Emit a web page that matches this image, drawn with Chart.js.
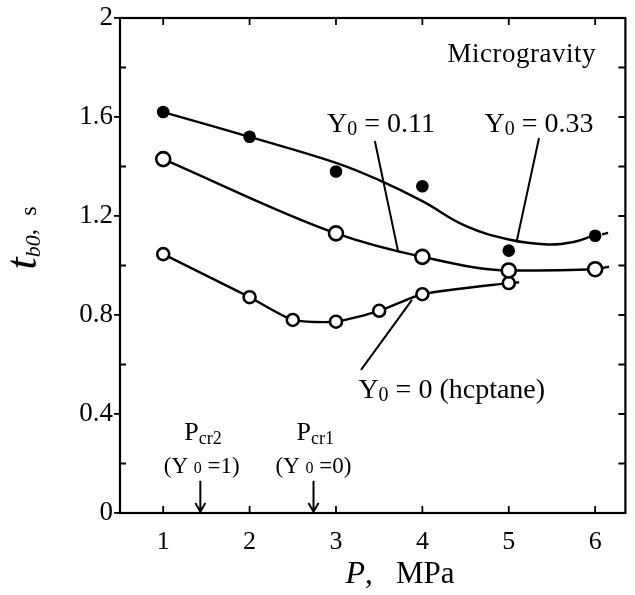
<!DOCTYPE html>
<html>
<head>
<meta charset="utf-8">
<script src="https://cdn.jsdelivr.net/npm/chart.js@4.4.1/dist/chart.umd.min.js"></script>
<style>
  html, body { margin: 0; padding: 0; background: #fff; }
</style>
</head>
<body>
<canvas id="chart1" width="635" height="595"></canvas>
<script>
// Y0 = 0.33 (filled dots) and the fitted curve through them
var pressure033 = [1, 2, 3, 4, 5, 6];
var tb033 = [1.62, 1.52, 1.38, 1.32, 1.06, 1.12];
var fitP033 = [1, 2, 3, 3.5, 4, 4.5, 5, 5.45, 5.75, 5.97];
var fitT033 = [1.62, 1.52, 1.415, 1.345, 1.26, 1.16, 1.105, 1.085, 1.095, 1.12];
var stubP033 = [6.08, 6.15];
var stubT033 = [1.126, 1.132];

// Y0 = 0.11 (large open circles)
var pressure011 = [1, 3, 4, 5, 6];
var tb011 = [1.43, 1.13, 1.035, 0.98, 0.985];
var tailP011 = 6.16, tailT011 = 0.995;

// Y0 = 0, heptane (small open circles)
var pressure0 = [1, 2, 2.5, 3, 3.5, 4, 5];
var tb0 = [1.046, 0.872, 0.78, 0.773, 0.817, 0.884, 0.929];
var tailP0 = 5.12, tailT0 = 0.932;

var xTickValues = [1, 2, 3, 4, 5, 6];
var yMinorValues = [0.2, 0.6, 1.0, 1.4, 1.8];
var yAllValues = [0.2, 0.4, 0.6, 0.8, 1.0, 1.2, 1.4, 1.6, 1.8];

function pts(xs, ys) {
    var out = [];
    for (var i = 0; i < xs.length; i++) out.push({x: xs[i], y: ys[i]});
    return out;
}

var line011 = pts(pressure011, tb011); line011.push({x: tailP011, y: tailT011});
var line0 = pts(pressure0, tb0); line0.push({x: tailP0, y: tailT0});
var rad011 = pressure011.map(function () { return 7; }); rad011.push(0);
var rad0 = pressure0.map(function () { return 6; }); rad0.push(0);

var serif = '"Liberation Serif", "Times New Roman", serif';

// draw a run of text pieces (with subscripts) starting at x, baseline y
function richText(ctx, parts, x, y, align) {
    var total = 0;
    parts.forEach(function (p) { ctx.font = p.font; total += ctx.measureText(p.t).width; });
    var cx = align === 'center' ? x - total / 2 : x;
    parts.forEach(function (p) {
        ctx.font = p.font;
        ctx.fillText(p.t, cx, y + (p.dy || 0));
        cx += ctx.measureText(p.t).width;
    });
}

var framePlugin = {
    id: 'frame',
    afterDraw: function (chart) {
        var ctx = chart.ctx;
        var a = chart.chartArea;
        var xs = chart.scales.x, ys = chart.scales.y;
        var X = function (v) { return xs.getPixelForValue(v); };
        var Y = function (v) { return ys.getPixelForValue(v); };
        ctx.save();
        ctx.strokeStyle = '#000';
        ctx.fillStyle = '#000';
        ctx.lineWidth = 2.2;
        ctx.strokeRect(a.left, a.top, a.right - a.left, a.bottom - a.top);

        // inward ticks
        ctx.lineWidth = 1.8;
        ctx.beginPath();
        xTickValues.forEach(function (v) {
            ctx.moveTo(X(v), a.bottom); ctx.lineTo(X(v), a.bottom - 7);
            ctx.moveTo(X(v), a.top); ctx.lineTo(X(v), a.top + 7);
        });
        yMinorValues.forEach(function (v) {
            ctx.moveTo(a.left, Y(v)); ctx.lineTo(a.left + 6, Y(v));
        });
        yAllValues.forEach(function (v) {
            ctx.moveTo(a.right, Y(v)); ctx.lineTo(a.right - 7, Y(v));
        });
        ctx.stroke();

        // leader lines
        ctx.lineWidth = 2;
        ctx.beginPath();
        ctx.moveTo(X(3.45), Y(1.503)); ctx.lineTo(X(3.72), Y(1.055));
        ctx.moveTo(X(5.35), Y(1.515)); ctx.lineTo(X(5.09), Y(1.095));
        ctx.moveTo(X(3.29), Y(0.578)); ctx.lineTo(X(3.88), Y(0.861));
        // critical pressure arrows
        [1.43, 2.74].forEach(function (p) {
            ctx.moveTo(X(p), Y(0.13)); ctx.lineTo(X(p), Y(0.005));
            ctx.moveTo(X(p) - 5, Y(0.04)); ctx.lineTo(X(p), Y(0.005)); ctx.lineTo(X(p) + 5, Y(0.04));
        });
        ctx.stroke();

        // labels
        ctx.textBaseline = 'alphabetic';
        ctx.letterSpacing = '0.5px';
        richText(ctx, [{t: 'Microgravity', font: '27px ' + serif}], X(5.15), Y(1.822), 'center');
        ctx.letterSpacing = '0px';
        var big = '28px ' + serif, sub = '20px ' + serif;
        richText(ctx, [{t: 'Y', font: big}, {t: '0', font: sub, dy: 3}, {t: ' = 0.11', font: big}], X(3.52), Y(1.54), 'center');
        richText(ctx, [{t: 'Y', font: big}, {t: '0', font: sub, dy: 3}, {t: ' = 0.33', font: big}], X(5.35), Y(1.54), 'center');
        richText(ctx, [{t: 'Y', font: big}, {t: '0', font: sub, dy: 3}, {t: ' = 0 (hcptane)', font: big}], X(4.34), Y(0.465), 'center');
        var pf = '26px ' + serif, pfs = '18px ' + serif, qf = '23px ' + serif, qfs = '16px ' + serif;
        richText(ctx, [{t: 'P', font: pf}, {t: 'cr2', font: pfs, dy: 4}], X(1.46), Y(0.295), 'center');
        richText(ctx, [{t: 'P', font: pf}, {t: 'cr1', font: pfs, dy: 4}], X(2.76), Y(0.295), 'center');
        richText(ctx, [{t: '(Y ', font: qf}, {t: '0', font: qfs}, {t: ' =1)', font: qf}], X(1.446), Y(0.162), 'center');
        richText(ctx, [{t: '(Y ', font: qf}, {t: '0', font: qfs}, {t: ' =0)', font: qf}], X(2.74), Y(0.162), 'center');

        // axis titles
        richText(ctx, [{t: 'P', font: 'italic 32px ' + serif}, {t: ',   MPa', font: '31px ' + serif}], 400, 583, 'center');
        ctx.translate(36, 238);
        ctx.rotate(-Math.PI / 2);
        richText(ctx, [{t: 't', font: 'italic 44px ' + serif}, {t: 'b0', font: 'italic 22px ' + serif, dy: 4},
                       {t: ',  ', font: '26px ' + serif}, {t: 's', font: '24px ' + serif}], 0, 0, 'center');
        ctx.restore();
    }
};

var ctx = document.getElementById('chart1').getContext('2d');
var myChart1 = new Chart(ctx, {
    type: 'scatter',
    data: {
        datasets: [
            {
                label: 'Y0 = 0.33',
                data: pts(pressure033, tb033),
                showLine: false,
                pointRadius: 6.3,
                pointBackgroundColor: '#000',
                pointBorderColor: '#000',
                pointBorderWidth: 0
            },
            {
                label: 'fit 0.33',
                data: pts(fitP033, fitT033),
                showLine: true,
                borderColor: '#000',
                borderWidth: 2.4,
                pointRadius: 0,
                tension: 0.4
            },
            {
                label: 'fit 0.33 end',
                data: pts(stubP033, stubT033),
                showLine: true,
                borderColor: '#000',
                borderWidth: 2.4,
                pointRadius: 0
            },
            {
                label: 'Y0 = 0.11',
                data: line011,
                showLine: true,
                borderColor: '#000',
                borderWidth: 2.4,
                cubicInterpolationMode: 'monotone',
                pointRadius: rad011,
                pointBackgroundColor: '#fff',
                pointBorderColor: '#000',
                pointBorderWidth: 2.6
            },
            {
                label: 'Y0 = 0',
                data: line0,
                showLine: true,
                borderColor: '#000',
                borderWidth: 2.4,
                tension: 0.2,
                pointRadius: rad0,
                pointBackgroundColor: '#fff',
                pointBorderColor: '#000',
                pointBorderWidth: 2.6
            }
        ]
    },
    options: {
        responsive: false,
        animation: false,
        layout: { padding: { top: 18, right: 7, left: 0, bottom: 0 } },
        plugins: { legend: { display: false }, tooltip: { enabled: false } },
        scales: {
            x: {
                type: 'linear',
                min: 0.5,
                max: 6.35,
                afterBuildTicks: function (scale) {
                    scale.ticks = xTickValues.map(function (v) { return {value: v}; });
                },
                afterFit: function (scale) { scale.height = 82; },
                grid: { display: false, drawTicks: false },
                border: { display: false },
                ticks: { color: '#000', padding: 14, font: { family: serif, size: 26 } }
            },
            y: {
                min: 0,
                max: 2,
                afterFit: function (scale) { scale.width = 120; },
                grid: { drawOnChartArea: false, drawTicks: true, tickLength: 6, color: '#000', lineWidth: 1.8 },
                border: { display: false },
                ticks: {
                    stepSize: 0.4,
                    color: '#000',
                    padding: 1,
                    font: { family: serif, size: 27 },
                    callback: function (v) {
                        if (Math.abs(v) < 1e-9) return '0';
                        if (Math.abs(v - 2) < 1e-9) return '2';
                        return v.toFixed(1);
                    }
                }
            }
        }
    },
    plugins: [framePlugin]
});
</script>
</body>
</html>
